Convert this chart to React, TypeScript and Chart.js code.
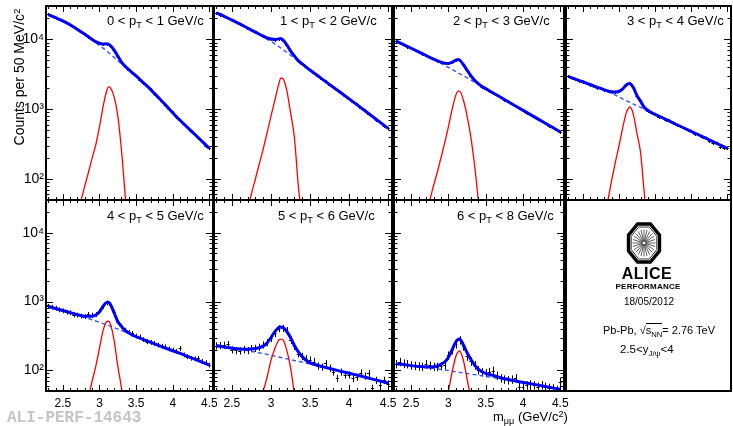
import React, { useEffect, useRef } from "react";
import { Chart, registerables } from "chart.js";

Chart.register(...registerables);

// ---------------- data ----------------
const massBins = [2.30, 2.35, 2.40, 2.45, 2.50, 2.55, 2.60, 2.65, 2.70, 2.75, 2.80, 2.85, 2.90, 2.95, 3.00, 3.05, 3.10, 3.15, 3.20, 3.25, 3.30, 3.35, 3.40, 3.45, 3.50, 3.55, 3.60, 3.65, 3.70, 3.75, 3.80, 3.85, 3.90, 3.95, 4.00, 4.05, 4.10, 4.15, 4.20, 4.25, 4.30, 4.35, 4.40, 4.45, 4.50];
const fitMass = [2.30, 2.40, 2.50, 2.60, 2.70, 2.80, 2.90, 2.95, 3.00, 3.05, 3.10, 3.125, 3.15, 3.20, 3.25, 3.30, 3.35, 3.40, 3.45, 3.50, 3.60, 3.70, 3.90, 4.10, 4.30, 4.50];
const bkgMass = [2.30, 2.50, 2.70, 2.90, 3.10, 3.30, 3.50, 3.70, 3.90, 4.10, 4.30, 4.50];
const signalMass = [2.60, 2.70, 2.75, 2.80, 2.85, 2.90, 2.95, 3.00, 3.05, 3.10, 3.125, 3.15, 3.20, 3.25, 3.30, 3.35, 3.40, 3.50];

const ptLow = ["0", "1", "2", "3", "4", "5", "6"];
const ptHigh = ["1", "2", "3", "4", "5", "6", "8"];

const counts_pt0_1 = [22700, 21400, 20500, 19300, 18500, 17200, 16300, 14900, 13900, 12600, 11900, 10800, 10000, 9200, 8800, 8500, 8650, 8100, 7050, 5700, 4750, 4100, 3680, 3290, 3000, 2650, 2400, 2120, 1920, 1670, 1490, 1290, 1160, 1000, 900, 770, 700, 610, 560, 480, 440, 380, 350, 300, 280];
const counts_pt1_2 = [24100, 22600, 21300, 20100, 18800, 17700, 16500, 15500, 14500, 13500, 12700, 11800, 11100, 10500, 10150, 9900, 10200, 9900, 8400, 6850, 5750, 4950, 4450, 4000, 3640, 3290, 3010, 2720, 2490, 2250, 2060, 1860, 1710, 1540, 1410, 1270, 1170, 1040, 960, 860, 790, 705, 650, 580, 535];
const counts_pt2_3 = [9420, 8850, 8390, 7880, 7460, 7000, 6620, 6190, 5880, 5500, 5220, 4930, 4730, 4550, 4530, 4690, 5060, 5020, 4370, 3600, 3030, 2590, 2330, 2110, 1975, 1820, 1710, 1580, 1485, 1370, 1290, 1185, 1115, 1030, 970, 890, 840, 770, 730, 670, 630, 580, 550, 500, 475];
const counts_pt3_4 = [2960, 2800, 2700, 2560, 2470, 2380, 2230, 2150, 2040, 1980, 1870, 1840, 1760, 1780, 1800, 1920, 2230, 2300, 2060, 1540, 1310, 1080, 950, 900, 850, 780, 770, 700, 690, 640, 590, 575, 530, 500, 490, 445, 440, 395, 390, 350, 330, 330, 290, 280, 280];
const counts_pt4_5 = [855, 830, 800, 760, 735, 700, 690, 640, 637, 615, 603, 653, 637, 650, 720, 850, 960, 900, 700, 500, 440, 386, 355, 345, 315, 308, 280, 261, 255, 247, 233, 225, 220, 205, 197, 190, 209, 168, 158, 150, 147, 150, 135, 130, 119];
const counts_pt5_6 = [228, 230, 233, 238, 200, 195, 192, 202, 195, 208, 210, 218, 235, 255, 292, 345, 405, 410, 380, 275, 225, 175, 160, 148, 142, 134, 116, 112, 126, 108, 95, 77, 95, 86, 86, 76, 80, 92, 83, 90, 55, 72, 61, 72, 64];
const counts_pt6_8 = [124, 133, 126, 124, 119, 117, 115, 113, 124, 118, 113, 113, 116, 119, 165, 197, 240, 275, 225, 160, 135, 119, 101, 95, 92, 95, 99, 84, 77, 74, 72, 74, 77, 58, 58, 61, 63, 61, 58, 61, 58, 56, 55, 52, 68];

const fit_pt0_1 = [22650, 20400, 18400, 16200, 13830, 11830, 9970, 9280, 8780, 8560, 8610, 8500, 8150, 7000, 5750, 4730, 4115, 3680, 3310, 2990, 2390, 1905, 1150, 692, 437, 275];
const fit_pt1_2 = [23990, 21380, 18840, 16610, 14485, 12690, 11110, 10516, 10130, 9915, 10150, 10290, 9920, 8430, 6820, 5760, 4950, 4445, 4005, 3630, 3000, 2480, 1700, 1160, 785, 531];
const fit_pt2_3 = [9400, 8375, 7450, 6620, 5865, 5210, 4720, 4560, 4520, 4700, 5050, 5140, 5030, 4360, 3605, 3020, 2600, 2320, 2115, 1970, 1705, 1480, 1110, 836, 628, 472];
const fit_pt3_4 = [2940, 2690, 2470, 2253, 2070, 1890, 1775, 1755, 1790, 1935, 2200, 2295, 2335, 2040, 1570, 1300, 1065, 962, 891, 843, 753, 673, 537, 430, 343, 274];
const fit_pt4_5 = [851, 794, 741, 691, 644, 609, 613, 636, 709, 858, 972, 967, 907, 687, 513, 435, 381, 350, 325, 309, 280, 254, 211, 176, 145, 119];
const fit_pt5_6 = [229, 219, 210, 204, 202, 207, 225, 250, 300, 365, 420, 428, 425, 370, 300, 230, 185, 158, 140, 128, 118, 110, 96.6, 85.1, 74.5, 65.3];
const fit_pt6_8 = [124, 121, 117, 114, 112, 113, 122, 132, 155, 200, 260, 278, 285, 235, 180, 145, 120, 104, 96, 90, 84, 78, 70, 64, 58, 53];

const bkg_pt0_1 = [22650, 18400, 13800, 9770, 6760, 4470, 2990, 1905, 1150, 692, 437, 275];
const bkg_pt1_2 = [23990, 18840, 14450, 10840, 7850, 5370, 3630, 2480, 1700, 1160, 785, 531];
const bkg_pt2_3 = [9400, 7450, 5830, 4520, 3450, 2620, 1970, 1480, 1110, 836, 628, 472];
const bkg_pt3_4 = [2940, 2470, 2060, 1680, 1330, 1060, 843, 673, 537, 430, 343, 274];
const bkg_pt4_5 = [851, 741, 638, 543, 457, 380, 309, 254, 211, 176, 145, 119];
const bkg_pt5_6 = [222, 207, 193, 175, 156, 139, 124, 110, 96.6, 85.1, 74.5, 65.3];
const bkg_pt6_8 = [123, 116, 110, 103, 95.1, 88.1, 81.7, 75, 68.9, 63.1, 57.8, 53];

const signal_pt0_1 = [15, 32, 50, 80, 125, 200, 310, 560, 1100, 1850, 2080, 2020, 1500, 800, 260, 60, 12, 1];
const signal_pt1_2 = [12, 35, 62, 100, 165, 270, 456, 800, 1355, 2300, 2790, 2760, 1900, 900, 390, 80, 25, 2];
const signal_pt2_3 = [10, 35, 50, 80, 125, 200, 330, 560, 1000, 1600, 1800, 1810, 1350, 800, 400, 160, 50, 4];
const signal_pt3_4 = [3, 10, 18, 28, 50, 95, 170, 290, 520, 870, 1000, 1075, 850, 450, 240, 65, 18, 2];
const signal_pt4_5 = [2, 6, 10, 20, 40, 70, 115, 210, 380, 515, 520, 470, 270, 115, 55, 20, 7, 1];
const signal_pt5_6 = [5, 12, 18, 25, 35, 50, 80, 140, 210, 275, 285, 280, 200, 110, 45, 18, 6, 1];
const signal_pt6_8 = [1, 2, 3, 5, 10, 18, 30, 50, 95, 160, 182, 191, 140, 75, 38, 15, 5, 1];

const relErrors = [0.012, 0.012, 0.02, 0.035, 0.08, 0.12, 0.14];

const xRange = [2.27, 4.55];
const yRange = [50, 30000];
const xTickValues = [2.5, 3, 3.5, 4, 4.5];
const xTickLabels = ["2.5", "3", "3.5", "4", "4.5"];
const xMinorTicks = [2.3, 2.4, 2.6, 2.7, 2.8, 2.9, 3.1, 3.2, 3.3, 3.4, 3.6, 3.7, 3.8, 3.9, 4.1, 4.2, 4.3, 4.4];
const yTickValues = [100, 1000, 10000];
const yTickLabels = ["10\u00B2", "10\u00B3", "10\u2074"];
const yMinorTicks = [50, 60, 70, 80, 90, 200, 300, 400, 500, 600, 700, 800, 900, 2000, 3000, 4000, 5000, 6000, 7000, 8000, 9000, 20000];

const countsByPanel = [counts_pt0_1, counts_pt1_2, counts_pt2_3, counts_pt3_4, counts_pt4_5, counts_pt5_6, counts_pt6_8];
const fitByPanel = [fit_pt0_1, fit_pt1_2, fit_pt2_3, fit_pt3_4, fit_pt4_5, fit_pt5_6, fit_pt6_8];
const bkgByPanel = [bkg_pt0_1, bkg_pt1_2, bkg_pt2_3, bkg_pt3_4, bkg_pt4_5, bkg_pt5_6, bkg_pt6_8];
const signalByPanel = [signal_pt0_1, signal_pt1_2, signal_pt2_3, signal_pt3_4, signal_pt4_5, signal_pt5_6, signal_pt6_8];

// ---------------- layout ----------------
const FONT = "'Liberation Sans', Arial, Helvetica, 'DejaVu Sans', sans-serif";
const PAD = 14;
const YAXIS_W = 43;
const XAXIS_H = 26;

type Frame = { l: number; t: number; r: number; b: number; yLabels: boolean; xLabels: boolean; titleX: number; titleY: number };
const FRAMES: Frame[] = [
  { l: 46, t: 6, r: 213, b: 200, yLabels: true, xLabels: false, titleX: 107, titleY: 13.7 },
  { l: 214, t: 6, r: 392, b: 200, yLabels: false, xLabels: false, titleX: 280, titleY: 13.7 },
  { l: 394, t: 6, r: 564, b: 200, yLabels: false, xLabels: false, titleX: 453, titleY: 13.7 },
  { l: 566, t: 6, r: 731, b: 200, yLabels: false, xLabels: false, titleX: 627, titleY: 13.7 },
  { l: 46, t: 200, r: 213, b: 391, yLabels: true, xLabels: true, titleX: 107, titleY: 209 },
  { l: 214, t: 200, r: 392, b: 391, yLabels: false, xLabels: true, titleX: 278, titleY: 209 },
  { l: 394, t: 200, r: 564, b: 391, yLabels: false, xLabels: true, titleX: 457, titleY: 209 },
];

function Panel({ idx }: { idx: number }) {
  const ref = useRef<HTMLCanvasElement | null>(null);
  const f = FRAMES[idx];
  const extraL = f.yLabels ? YAXIS_W : 0;
  const extraB = f.xLabels ? XAXIS_H : 0;
  const cw = f.r - f.l + 2 * PAD + extraL;
  const ch = f.b - f.t + 2 * PAD + extraB;
  const cl = f.l - PAD - extraL;
  const ct = f.t - PAD;

  useEffect(() => {
    const canvas = ref.current;
    if (!canvas) return;
    const rel = relErrors[idx];
    const counts = countsByPanel[idx];

    const errorBars = {
      id: "errorBars",
      beforeDatasetsDraw(chart: any) {
        const { ctx, chartArea: a, scales } = chart;
        const xs = scales.x;
        const ys = scales.y;
        ctx.save();
        ctx.beginPath();
        ctx.rect(a.left, a.top, a.right - a.left, a.bottom - a.top);
        ctx.clip();
        ctx.strokeStyle = "#000";
        ctx.lineWidth = 1;
        ctx.beginPath();
        massBins.forEach((m, i) => {
          const v = counts[i];
          const px = Math.round(xs.getPixelForValue(m)) + 0.5;
          const py = Math.round(ys.getPixelForValue(v)) + 0.5;
          const yHi = ys.getPixelForValue(v * (1 + rel));
          const yLo = ys.getPixelForValue(v * (1 - rel));
          ctx.moveTo(px, Math.min(yHi, py - 1.5));
          ctx.lineTo(px, Math.max(yLo, py + 1.5));
          ctx.moveTo(xs.getPixelForValue(m - 0.02), py);
          ctx.lineTo(xs.getPixelForValue(m + 0.02), py);
        });
        ctx.stroke();
        ctx.restore();
      },
    };

    const rootFrame = {
      id: "rootFrame",
      afterDatasetsDraw(chart: any) {
        const { ctx, chartArea: a, scales } = chart;
        const xs = scales.x;
        const ys = scales.y;
        ctx.save();
        ctx.strokeStyle = "#000";
        ctx.lineWidth = 1;
        ctx.beginPath();
        const xt = (v: number, len: number) => {
          const px = Math.round(xs.getPixelForValue(v)) + 0.5;
          ctx.moveTo(px, a.bottom);
          ctx.lineTo(px, a.bottom - len);
          ctx.moveTo(px, a.top);
          ctx.lineTo(px, a.top + len);
        };
        const yt = (v: number, len: number) => {
          const py = Math.round(ys.getPixelForValue(v)) + 0.5;
          ctx.moveTo(a.left, py);
          ctx.lineTo(a.left + len, py);
          ctx.moveTo(a.right, py);
          ctx.lineTo(a.right - len, py);
        };
        xTickValues.forEach((v) => xt(v, 6));
        xMinorTicks.forEach((v) => xt(v, 3));
        yTickValues.forEach((v) => yt(v, 7));
        yMinorTicks.forEach((v) => yt(v, 3.5));
        ctx.stroke();
        ctx.lineWidth = 2;
        ctx.strokeRect(a.left, a.top, a.right - a.left, a.bottom - a.top);
        ctx.restore();
      },
    };

    const pts = (xsArr: number[], ysArr: number[]) => xsArr.map((x, i) => ({ x, y: ysArr[i] }));

    const chart = new Chart(canvas, {
      type: "line",
      data: {
        datasets: [
          {
            label: "fit",
            data: pts(fitMass, fitByPanel[idx]),
            borderColor: "#0000ff",
            borderWidth: 3,
            pointRadius: 0,
            cubicInterpolationMode: "monotone",
            fill: false,
            clip: 0,
            order: 0,
          },
          {
            label: "signal",
            data: pts(signalMass, signalByPanel[idx]),
            borderColor: "#ff0000",
            borderWidth: 1.3,
            pointRadius: 0,
            cubicInterpolationMode: "monotone",
            fill: false,
            clip: 0,
            order: 1,
          },
          {
            label: "background",
            data: pts(bkgMass, bkgByPanel[idx]),
            borderColor: "#3355ff",
            borderWidth: 1.4,
            borderDash: [4, 3],
            pointRadius: 0,
            cubicInterpolationMode: "monotone",
            fill: false,
            clip: 0,
            order: 2,
          },
          {
            label: "data",
            data: pts(massBins, counts),
            showLine: false,
            pointRadius: 0,
            borderColor: "#000",
            clip: 0,
            order: 3,
          },
        ],
      } as any,
      options: {
        animation: false,
        responsive: false,
        maintainAspectRatio: false,
        events: [],
        layout: { padding: { left: PAD, right: PAD, top: PAD, bottom: PAD } },
        plugins: { legend: { display: false }, tooltip: { enabled: false }, title: { display: false } },
        scales: {
          x: {
            type: "linear",
            min: xRange[0],
            max: xRange[1],
            bounds: "data",
            display: f.xLabels,
            grid: { display: false, drawTicks: false },
            border: { display: false },
            afterBuildTicks: (s: any) => {
              s.ticks = xTickValues.map((value) => ({ value }));
            },
            afterFit: f.xLabels
              ? (s: any) => {
                  s.height = XAXIS_H;
                }
              : undefined,
            ticks: {
              autoSkip: false,
              maxRotation: 0,
              minRotation: 0,
              padding: 5,
              color: "#000",
              font: { family: FONT, size: 12 },
              callback: (_v: any, i: number) => xTickLabels[i],
            },
          },
          y: {
            type: "logarithmic",
            min: yRange[0],
            max: yRange[1],
            bounds: "data",
            display: f.yLabels,
            grid: { display: false, drawTicks: false },
            border: { display: false },
            afterBuildTicks: (s: any) => {
              s.ticks = yTickValues.map((value) => ({ value }));
            },
            afterFit: f.yLabels
              ? (s: any) => {
                  s.width = YAXIS_W;
                }
              : undefined,
            ticks: {
              autoSkip: false,
              padding: 2,
              color: "#000",
              font: { family: FONT, size: 14 },
              callback: (_v: any, i: number) => yTickLabels[i],
            },
          },
        },
      } as any,
      plugins: [errorBars, rootFrame],
    });
    return () => chart.destroy();
  }, [idx]);

  return (
    <canvas
      ref={ref}
      width={cw}
      height={ch}
      style={{ position: "absolute", left: cl, top: ct, width: cw, height: ch }}
    />
  );
}

const subStyle: React.CSSProperties = { fontSize: "0.7em", position: "relative", top: "0.35em" };
const supStyle: React.CSSProperties = { fontSize: "0.7em", position: "relative", top: "-0.45em" };

function AliceLogo() {
  const cx = 20;
  const cy = 22;
  const oct = (ax: number, ay: number) => {
    const k = 1 / Math.cos(Math.PI / 8);
    const p: string[] = [];
    for (let i = 0; i < 8; i++) {
      const a = Math.PI / 8 + (i * Math.PI) / 4;
      p.push(`${(cx + ax * k * Math.cos(a)).toFixed(2)},${(cy + ay * k * Math.sin(a)).toFixed(2)}`);
    }
    return p.join(" ");
  };
  const spokes = [];
  for (let i = 0; i < 24; i++) {
    const a = (i * Math.PI * 2) / 24;
    spokes.push(
      <line
        key={i}
        x1={cx + 1.5 * Math.cos(a)}
        y1={cy + 1.5 * Math.sin(a)}
        x2={cx + 11.5 * Math.cos(a)}
        y2={cy + 13.5 * Math.sin(a)}
        stroke="#333"
        strokeWidth={0.8}
      />
    );
  }
  return (
    <svg width={40} height={44} style={{ position: "absolute", left: 624, top: 221 }}>
      <polygon points={oct(15.5, 19)} fill="#fff" stroke="#000" strokeWidth={3.4} />
      <polygon points={oct(12.8, 16)} fill="none" stroke="#000" strokeWidth={0.8} />
      {spokes}
    </svg>
  );
}

export default function App() {
  return (
    <div
      style={{
        position: "fixed",
        left: 0,
        top: 0,
        width: 733,
        height: 426,
        overflow: "hidden",
        background: "#fff",
        fontFamily: FONT,
        color: "#000",
      }}
    >
      {FRAMES.map((_, i) => (
        <Panel key={i} idx={i} />
      ))}

      {/* empty info cell frame */}
      <div
        style={{
          position: "absolute",
          left: 565,
          top: 199,
          width: 167,
          height: 193,
          border: "2px solid #000",
          boxSizing: "border-box",
        }}
      />

      {/* panel titles */}
      {FRAMES.map((f, i) => (
        <div
          key={"t" + i}
          style={{
            position: "absolute",
            left: f.titleX,
            top: f.titleY,
            fontSize: 13,
            lineHeight: "13px",
            whiteSpace: "nowrap",
          }}
        >
          {`${ptLow[i]} < p`}
          <span style={subStyle}>T</span>
          {` < ${ptHigh[i]} GeV/c`}
        </div>
      ))}

      {/* y axis title */}
      <div
        style={{
          position: "absolute",
          left: 18.6 - 85,
          top: 77 - 7,
          width: 170,
          height: 14,
          fontSize: 14,
          lineHeight: "14px",
          textAlign: "center",
          whiteSpace: "nowrap",
          transform: "rotate(-90deg)",
        }}
      >
        Counts per 50 MeV/c<span style={supStyle}>2</span>
      </div>

      {/* x axis title */}
      <div
        style={{
          position: "absolute",
          left: 493,
          top: 409.7,
          fontSize: 13,
          lineHeight: "13px",
          whiteSpace: "nowrap",
        }}
      >
        m<span style={subStyle}>{"\u03BC\u03BC"}</span> (GeV/c<span style={supStyle}>2</span>)
      </div>

      {/* watermark */}
      <div
        style={{
          position: "absolute",
          left: 7,
          top: 409.7,
          fontSize: 16,
          lineHeight: "16px",
          fontFamily: "'Liberation Mono', 'DejaVu Sans Mono', monospace",
          fontWeight: "bold",
          color: "#c4c4c4",
          whiteSpace: "nowrap",
        }}
      >
        ALI-PERF-14643
      </div>

      {/* ALICE logo cell */}
      <AliceLogo />
      <div style={{ position: "absolute", left: 597, top: 265.5, width: 100, textAlign: "center", fontSize: 16, lineHeight: "16px", fontWeight: "bold", letterSpacing: 0.5 }}>
        ALICE
      </div>
      <div style={{ position: "absolute", left: 598, top: 283.2, width: 100, textAlign: "center", fontSize: 8, lineHeight: "8px", fontWeight: "bold", letterSpacing: 0.2 }}>
        PERFORMANCE
      </div>
      <div style={{ position: "absolute", left: 599, top: 296.5, width: 100, textAlign: "center", fontSize: 10, lineHeight: "10px" }}>
        18/05/2012
      </div>
      <div style={{ position: "absolute", left: 603, top: 325, fontSize: 11, lineHeight: "11px", whiteSpace: "nowrap" }}>
        {"Pb-Pb, \u221A"}
        <span style={{ borderTop: "1px solid #000" }}>
          s<span style={subStyle}>NN</span>
        </span>
        {"= 2.76 TeV"}
      </div>
      <div style={{ position: "absolute", left: 620, top: 343.7, fontSize: 11.5, lineHeight: "11.5px", whiteSpace: "nowrap" }}>
        {"2.5<y"}
        <span style={subStyle}>{"J/\u03C8"}</span>
        {"<4"}
      </div>
    </div>
  );
}
